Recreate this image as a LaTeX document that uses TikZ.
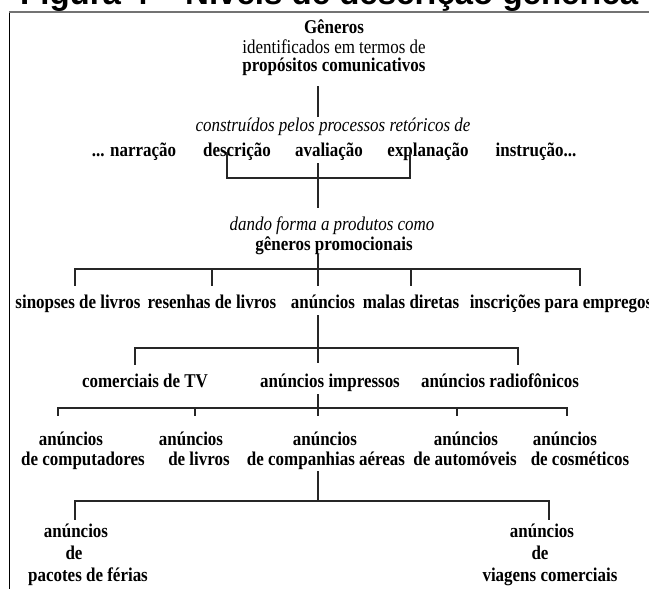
\documentclass[tikz,border=0pt]{standalone}
\usepackage{fontspec}
\setmainfont{Liberation Serif}[FakeStretch=0.87]
\setsansfont{Liberation Sans}
\usetikzlibrary{positioning,calc}

\begin{document}
\begin{tikzpicture}[x=1pt, y=-1pt,
  every node/.style={inner sep=0pt, text height=12pt, text depth=4pt},
  bold/.style={font=\fontsize{19.5}{22}\selectfont\bfseries},
  plain/.style={font=\fontsize{19.5}{22}\selectfont},
  ital/.style={font=\fontsize{19.5}{22}\selectfont\itshape},
  link/.style={draw=black!85, line width=1.8pt}]

\useasboundingbox (0,0) rectangle (649,589);

% titulo, cortado em cima
\begin{scope}
  \clip (0,0) rectangle (649,589);
  \node[anchor=base west, text height=, text depth=, font=\fontsize{33}{36}\selectfont\sffamily\bfseries] (title) at (20,5) {Figura 4 – Níveis de descrição genérica};
\end{scope}

% moldura
\coordinate (fa) at (9,589);
\coordinate (fb) at (9,12);
\coordinate (fc) at (649,12);
\draw[line width=1pt] (fa) -- (fb);
\draw[line width=2.2pt, black!55] (fb) -- (fc);

\node[bold]  (gen)   at (334,29)  {Gêneros};
\node[plain] (gen2)  at (334,49)  {identificados em termos de};
\node[bold]  (gen3)  at (334,67)  {propósitos comunicativos};
\node[ital]  (proc)  at (333,127) {construídos pelos processos retóricos de};
\node[bold]  (narr)  at (134,152) {... narração};
\node[bold]  (desc)  at (237,152) {descrição};
\node[bold]  (aval)  at (329,152) {avaliação};
\node[bold]  (expl)  at (428,152) {explanação};
\node[bold]  (inst)  at (536,152) {instrução...};
\node[ital]  (prod)  at (332,226) {dando forma a produtos como};
\node[bold]  (prom)  at (334,246) {gêneros promocionais};
\node[bold]  (sin)   at (78,304)  {sinopses de livros};
\node[bold]  (res)   at (212,304) {resenhas de livros};
\node[bold]  (anu)   at (323,304) {anúncios};
\node[bold]  (mal)   at (411,304) {malas diretas};
\node[bold]  (ins)   at (561,304) {inscrições para empregos};
\node[bold]  (tv)    at (145,383) {comerciais de TV};
\node[bold]  (imp)   at (330,383) {anúncios impressos};
\node[bold]  (rad)   at (500,383) {anúncios radiofônicos};
\node[bold]  (comp)  at (71,441)  {anúncios};
\node[bold]  (comp2) at (83,461)  {de computadores};
\node[bold]  (liv)   at (191,441) {anúncios};
\node[bold]  (liv2)  at (199,461) {de livros};
\node[bold]  (aer)   at (325,441) {anúncios};
\node[bold]  (aer2)  at (326,461) {de companhias aéreas};
\node[bold]  (aut)   at (466,441) {anúncios};
\node[bold]  (aut2)  at (465,461) {de automóveis};
\node[bold]  (cos)   at (565,441) {anúncios};
\node[bold]  (cos2)  at (580,461) {de cosméticos};
\node[bold]  (fer)   at (76,533)  {anúncios};
\node[bold]  (fer2)  at (74,555)  {de};
\node[bold]  (fer3)  at (88,577)  {pacotes de férias};
\node[bold]  (via)   at (542,533) {anúncios};
\node[bold]  (via2)  at (540,555) {de};
\node[bold]  (via3)  at (550,577) {viagens comerciais};

% ligacoes
\coordinate (sp) at (318,0);
\draw[link] ([yshift=-11pt]gen3.south -| sp) -- ([yshift=2pt]proc.north -| sp);

\coordinate (jb) at (318,178);
\draw[link] ([xshift=-10pt]desc.center) |- (jb) -| ([xshift=-18pt]expl.center);
\draw[link] ([yshift=-3pt]aval.south -| sp) -- ([yshift=10pt]prod.north -| sp);

\coordinate (j2) at (318,269);
\draw[link] (prom.south -| sp) -- (j2);
\draw[link] ([xshift=-3pt,yshift=10pt]sin.north) |- (j2) -| ([xshift=19pt,yshift=10pt]ins.north);
\draw[link] (j2 -| res) -- ([yshift=10pt]res.north);
\draw[link] (j2 -| mal) -- ([yshift=10pt]mal.north);
\draw[link] (j2) -- ([yshift=10pt]anu.north -| sp);

\coordinate (j3) at (318,348);
\draw[link] ([yshift=-3pt]anu.south -| sp) -- ([yshift=12pt]imp.north -| sp);
\draw[link] ([xshift=-10pt,yshift=10pt]tv.north) |- (j3) -| ([xshift=18pt,yshift=10pt]rad.north);

\coordinate (j4) at (318,408);
\draw[link] ([yshift=-3pt]imp.south -| sp) -- ([yshift=17pt]aer.north -| sp);
\draw[link] ([xshift=-13pt,yshift=17pt]comp.north) |- (j4) -| ([xshift=2pt,yshift=17pt]cos.north);
\draw[link] ([xshift=4pt]j4 -| liv) -- ([xshift=4pt,yshift=17pt]liv.north);
\draw[link] ([xshift=-9pt]j4 -| aut) -- ([xshift=-9pt,yshift=17pt]aut.north);

\coordinate (j5) at (318,501);
\draw[link] ([yshift=-2pt]aer2.south -| sp) -- (j5);
\draw[link] ([xshift=-1pt,yshift=5pt]fer.north) |- (j5) -| ([xshift=7pt,yshift=5pt]via.north);

\end{tikzpicture}
\end{document}
